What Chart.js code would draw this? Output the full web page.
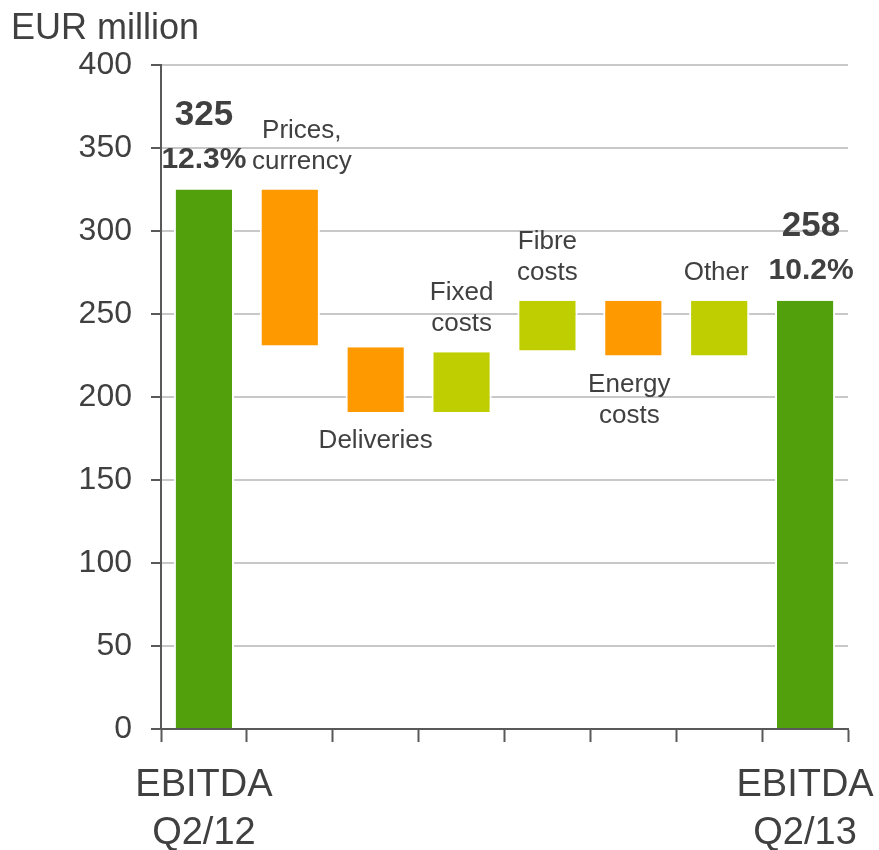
<!DOCTYPE html>
<html>
<head>
<meta charset="utf-8">
<script src="https://cdn.jsdelivr.net/npm/chart.js@4"></script>
<style>
  body { margin: 0; background: #fff; }
  canvas { display: block; }
</style>
</head>
<body>
<canvas id="chart" width="879" height="850"></canvas>
<script>
// EBITDA bridge Q2/12 -> Q2/13, EUR million
const categories = ['EBITDA Q2/12', 'Prices, currency', 'Deliveries', 'Fixed costs', 'Fibre costs', 'Energy costs', 'Other', 'EBITDA Q2/13'];
const barLow = [0, 231, 191, 191, 228, 225, 225, 0];
const barHigh = [325, 325, 230, 227, 258, 258, 258, 258];
const barColors = ['#52a00c', '#ff9900', '#ff9900', '#bfce00', '#bfce00', '#ff9900', '#bfce00', '#52a00c'];
const tickLabels = [['EBITDA', 'Q2/12'], '', '', '', '', '', '', ['EBITDA', 'Q2/13']];
const barNotes = [['325', '12.3%'], ['Prices,', 'currency'], ['Deliveries'], ['Fixed', 'costs'], ['Fibre', 'costs'], ['Energy', 'costs'], ['Other'], ['258', '10.2%']];
const noteSide = ['above', 'above', 'below', 'above', 'above', 'below', 'above', 'above'];

const textColor = '#404040';
const axisColor = '#595959';
const FONT = '"Liberation Sans", Arial, sans-serif';
// small horizontal nudges of the notes, in px (by category index)
const nudge = { 1: 12, 5: -4, 6: -3, 7: 6 };

const notesPlugin = {
    id: 'notes',
    afterDatasetsDraw(chart) {
        const ctx = chart.ctx;
        const meta = chart.getDatasetMeta(0);
        ctx.save();
        ctx.fillStyle = textColor;
        ctx.textAlign = 'center';
        ctx.textBaseline = 'middle';
        meta.data.forEach((bar, i) => {
            const top = Math.min(bar.y, bar.base);
            const bottom = Math.max(bar.y, bar.base);
            const x = bar.x + (nudge[i] || 0);
            const lines = barNotes[i];
            if (barLow[i] === 0) {
                // totals: value + margin in bold
                ctx.font = 'bold 35px ' + FONT;
                ctx.fillText(lines[0], x, top - 74);
                ctx.font = 'bold 30px ' + FONT;
                ctx.fillText(lines[1], x, top - 30);
                return;
            }
            ctx.font = '26px ' + FONT;
            const n = lines.length;
            lines.forEach((t, j) => {
                const y = noteSide[i] === 'above'
                    ? top - 28 - (n - 1 - j) * 31
                    : bottom + 29 + j * 31;
                ctx.fillText(t, x, y);
            });
        });
        // unit label
        ctx.textAlign = 'left';
        ctx.font = '36px ' + FONT;
        ctx.fillText('EUR million', 11, 29);
        ctx.restore();
    }
};

new Chart(document.getElementById('chart'), {
    type: 'bar',
    data: {
        labels: tickLabels,
        datasets: [{
            label: 'EBITDA bridge',
            data: barLow.map((lo, i) => [lo, barHigh[i]]),
            backgroundColor: barColors,
            borderColor: '#ffffff',
            borderWidth: { left: 2, right: 2, top: 0, bottom: 0 },
            borderSkipped: false,
            categoryPercentage: 1,
            barPercentage: 0.70
        }]
    },
    options: {
        responsive: false,
        animation: false,
        layout: { padding: { left: 0, right: 31, top: 65, bottom: 0 } },
        plugins: {
            legend: { display: false },
            tooltip: { enabled: false }
        },
        scales: {
            x: {
                grid: {
                    offset: true,
                    drawOnChartArea: false,
                    tickLength: 13,
                    tickColor: axisColor,
                    tickWidth: 2
                },
                border: { color: axisColor, width: 2 },
                ticks: {
                    autoSkip: false,
                    maxRotation: 0,
                    color: textColor,
                    padding: 19,
                    font: { family: FONT, size: 38, lineHeight: 1.27 }
                },
                afterFit(scale) {
                    scale.height = 121;
                    scale.paddingLeft = 0;
                    scale.paddingRight = 0;
                }
            },
            y: {
                min: 0,
                max: 400,
                ticks: {
                    stepSize: 50,
                    color: textColor,
                    padding: 19,
                    font: { family: FONT, size: 32 }
                },
                grid: {
                    color: '#c8c8c8',
                    lineWidth: 2,
                    tickLength: 10,
                    tickColor: axisColor,
                    tickWidth: 2
                },
                border: { color: axisColor, width: 2 },
                afterFit(scale) { scale.width = 161; }
            }
        }
    },
    plugins: [notesPlugin]
});
</script>
</body>
</html>
